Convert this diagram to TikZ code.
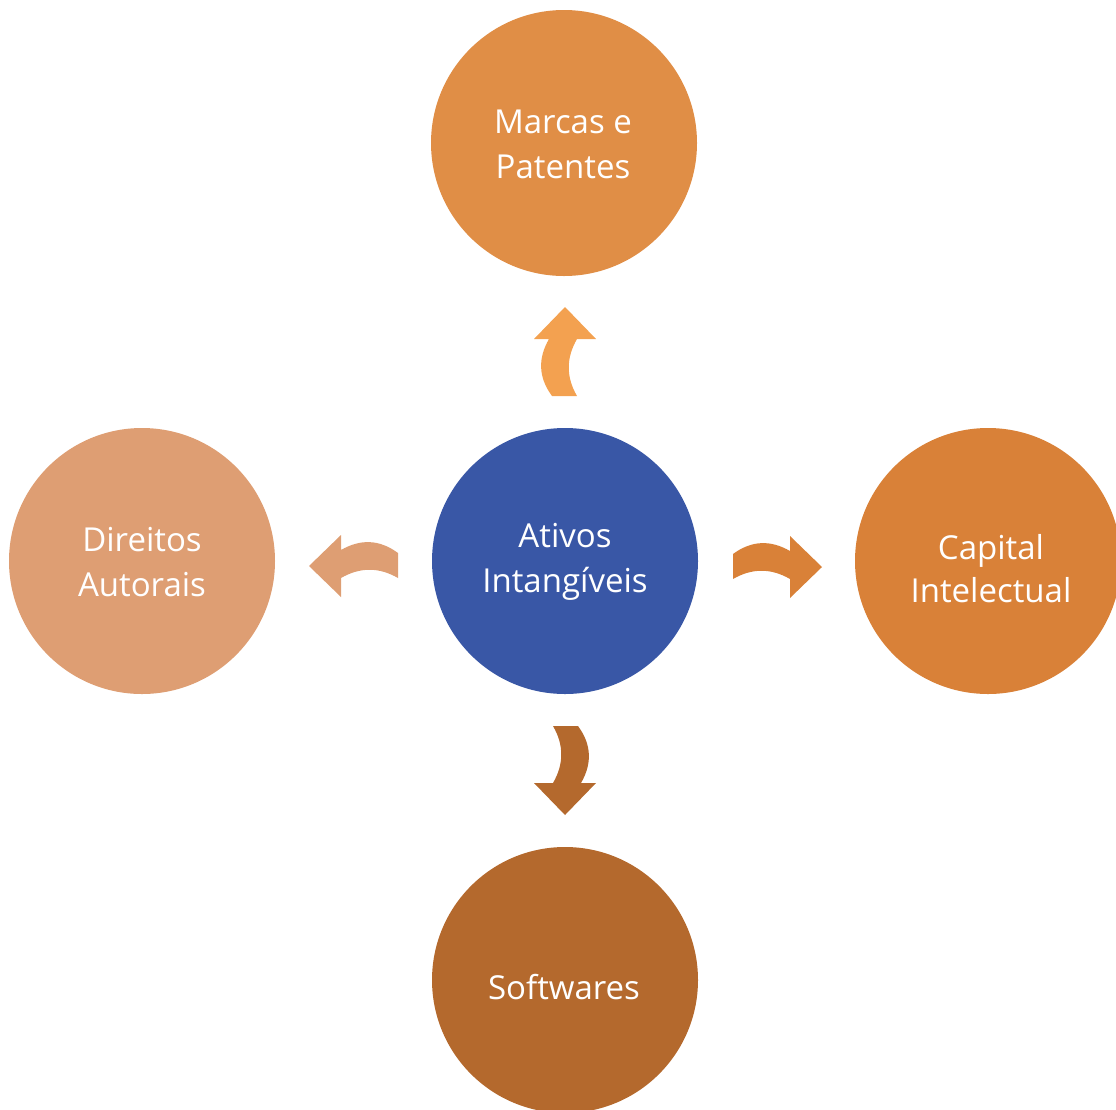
\documentclass[tikz,border=0pt]{standalone}
\usepackage{fontspec}
\setmainfont{Open Sans}
\definecolor{cMarcas}{RGB}{224,142,70}
\definecolor{cAtivos}{RGB}{57,87,166}
\definecolor{cDireitos}{RGB}{222,158,115}
\definecolor{cCapital}{RGB}{217,129,56}
\definecolor{cSoftwares}{RGB}{180,105,45}
\definecolor{aUp}{RGB}{243,161,80}
\begin{document}
\begin{tikzpicture}[x=1pt,y=-1pt,
  bubble/.style={circle,minimum size=266pt,inner sep=0pt},
  caption/.style={align=center,text=white,font=\fontsize{33}{45}\selectfont},
  curvarrow/.pic={
    \fill[pic actions] (0,-45) -- (31,-13) -- (12,-13)
      .. controls (1,6) and (1,25) .. (12,44) -- (-13,44)
      .. controls (-27,25) and (-27,6) .. (-16,-13) -- (-31,-13) -- cycle;}]
\useasboundingbox (0,0) rectangle (1116,1109);
\clip (0,0) rectangle (1116,1109);

% the five circles
\node[bubble,fill=cMarcas]    (marcas)    at (564,143) {};
\node[bubble,fill=cAtivos]    (ativos)    at (565,561) {};
\node[bubble,fill=cDireitos]  (direitos)  at (142,561) {};
\node[bubble,fill=cCapital]   (capital)   at (988,561) {};
\node[bubble,fill=cSoftwares] (softwares) at (565,980) {};

% their captions
\node[caption] (marcastxt)    at (563,144) {Marcas e\\Patentes};
\node[caption] (ativostxt)    at (565,562) {Ativos\\Intangíveis};
\node[caption] (direitostxt)  at (142,562) {Direitos\\Autorais};
\node[caption,font=\fontsize{33}{43}\selectfont] (capitaltxt) at (991,569) {Capital\\Intelectual};
\node[caption] (softwarestxt) at (564,987) {Softwares};

% curved block arrows leaving the centre
\pic[fill=aUp] at (565,352) {curvarrow};
\pic[fill=cCapital,rotate=-90] at (777,567) {curvarrow};
\pic[fill=cSoftwares,rotate=180] at (565,770) {curvarrow};
\pic[fill=cDireitos,xscale=-1,rotate=-90] at (354,566) {curvarrow};
\end{tikzpicture}
\end{document}
